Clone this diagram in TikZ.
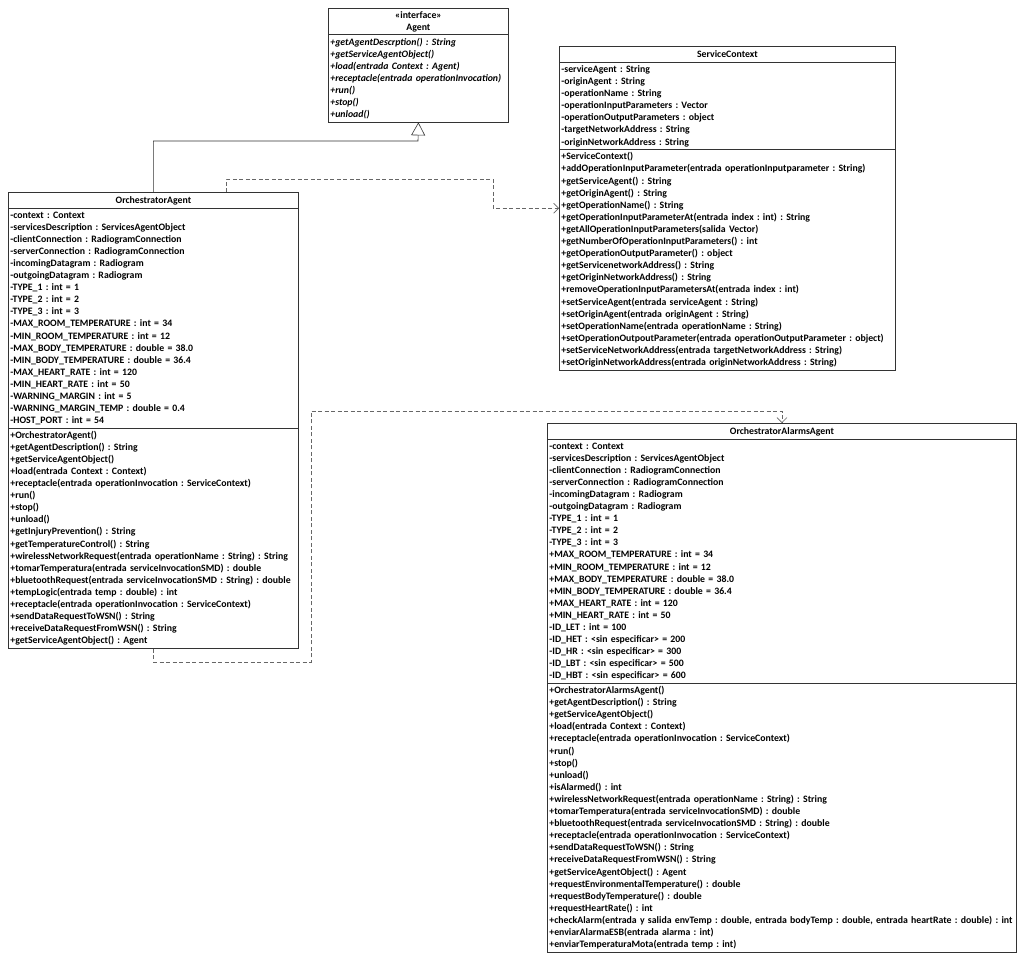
\documentclass[tikz,border=0pt]{standalone}
\usepackage{fontspec}
\setmainfont{Carlito}
\usepackage{tikz}
\usetikzlibrary{shapes.multipart,arrows.meta}

\newcommand{\umlfont}{\fontsize{9.8}{12.1}\selectfont\bfseries\frenchspacing}
\newcommand{\hdstrut}{\rule[-2.5pt]{0pt}{10.5pt}}
\newcommand{\hdline}[1]{\hbox to\hsize{\hfil#1\hfil}}

\begin{document}
\begin{tikzpicture}[x=1pt, y=-1pt,
    umlclass/.style={draw=black!80, line width=0.8pt, rectangle split, rectangle split parts=3,
        text width=#1, inner xsep=2pt, inner ysep=2.5pt, anchor=north west, font=\umlfont, align=left},
    umliface/.style={umlclass=#1, rectangle split parts=2},
    inherit/.style={draw=black!80, line width=0.6pt, -{Triangle[open, width=14pt, length=13pt]}},
    depends/.style={draw=black!60, line width=0.6pt, dash pattern=on 4pt off 2.5pt, -{Straight Barb[length=5pt, width=10pt]}}]

        \useasboundingbox (0,0) rectangle (1024,962);

        % Interface
        \node[umliface=176pt] (Agent) at (328,8) {\hdline{«interface»}\\\hdline{Agent}
            \nodepart{two}\itshape
            +getAgentDescrption() : String\\
            +getServiceAgentObject()\\
            +load(entrada Context : Agent)\\
            +receptacle(entrada operationInvocation)\\
            +run()\\
            +stop()\\
            +unload()};

        % Service context class
        \node[umlclass=332pt] (SC) at (559,46) {\hdline{\hdstrut ServiceContext}
            \nodepart{two}
            -serviceAgent : String\\
            -originAgent : String\\
            -operationName : String\\
            -operationInputParameters : Vector\\
            -operationOutputParameters : object\\
            -targetNetworkAddress : String\\
            -originNetworkAddress : String
            \nodepart{three}
            +ServiceContext()\\
            +addOperationInputParameter(entrada operationInputparameter : String)\\
            +getServiceAgent() : String\\
            +getOriginAgent() : String\\
            +getOperationName() : String\\
            +getOperationInputParameterAt(entrada index : int) : String\\
            +getAllOperationInputParameters(salida Vector)\\
            +getNumberOfOperationInputParameters() : int\\
            +getOperationOutputParameter() : object\\
            +getServicenetworkAddress() : String\\
            +getOriginNetworkAddress() : String\\
            +removeOperationInputParametersAt(entrada index : int)\\
            +setServiceAgent(entrada serviceAgent : String)\\
            +setOriginAgent(entrada originAgent : String)\\
            +setOperationName(entrada operationName : String)\\
            +setOperationOutpoutParameter(entrada operationOutputParameter : object)\\
            +setServiceNetworkAddress(entrada targetNetworkAddress : String)\\
            +setOriginNetworkAddress(entrada originNetworkAddress : String)};

        % Orchestrator agent class
        \node[umlclass=286pt] (OA) at (8,192) {\hdline{\hdstrut OrchestratorAgent}
            \nodepart{two}
            -context : Context\\
            -servicesDescription : ServicesAgentObject\\
            -clientConnection : RadiogramConnection\\
            -serverConnection : RadiogramConnection\\
            -incomingDatagram : Radiogram\\
            -outgoingDatagram : Radiogram\\
            -TYPE\_1 : int = 1\\
            -TYPE\_2 : int = 2\\
            -TYPE\_3 : int = 3\\
            -MAX\_ROOM\_TEMPERATURE : int = 34\\
            -MIN\_ROOM\_TEMPERATURE : int = 12\\
            -MAX\_BODY\_TEMPERATURE : double = 38.0\\
            -MIN\_BODY\_TEMPERATURE : double = 36.4\\
            -MAX\_HEART\_RATE : int = 120\\
            -MIN\_HEART\_RATE : int = 50\\
            -WARNING\_MARGIN : int = 5\\
            -WARNING\_MARGIN\_TEMP : double = 0.4\\
            -HOST\_PORT : int = 54
            \nodepart{three}
            +OrchestratorAgent()\\
            +getAgentDescription() : String\\
            +getServiceAgentObject()\\
            +load(entrada Context : Context)\\
            +receptacle(entrada operationInvocation : ServiceContext)\\
            +run()\\
            +stop()\\
            +unload()\\
            +getInjuryPrevention() : String\\
            +getTemperatureControl() : String\\
            +wirelessNetworkRequest(entrada operationName : String) : String\\
            +tomarTemperatura(entrada serviceInvocationSMD) : double\\
            +bluetoothRequest(entrada serviceInvocationSMD : String) : double\\
            +tempLogic(entrada temp : double) : int\\
            +receptacle(entrada operationInvocation : ServiceContext)\\
            +sendDataRequestToWSN() : String\\
            +receiveDataRequestFromWSN() : String\\
            +getServiceAgentObject() : Agent};

        % Orchestrator alarms agent class
        \node[umlclass=465pt] (OAA) at (547,423) {\hdline{\hdstrut OrchestratorAlarmsAgent}
            \nodepart{two}
            -context : Context\\
            -servicesDescription : ServicesAgentObject\\
            -clientConnection : RadiogramConnection\\
            -serverConnection : RadiogramConnection\\
            -incomingDatagram : Radiogram\\
            -outgoingDatagram : Radiogram\\
            -TYPE\_1 : int = 1\\
            -TYPE\_2 : int = 2\\
            -TYPE\_3 : int = 3\\
            +MAX\_ROOM\_TEMPERATURE : int = 34\\
            +MIN\_ROOM\_TEMPERATURE : int = 12\\
            +MAX\_BODY\_TEMPERATURE : double = 38.0\\
            +MIN\_BODY\_TEMPERATURE : double = 36.4\\
            +MAX\_HEART\_RATE : int = 120\\
            +MIN\_HEART\_RATE : int = 50\\
            -ID\_LET : int = 100\\
            -ID\_HET : <sin especificar> = 200\\
            -ID\_HR : <sin especificar> = 300\\
            -ID\_LBT : <sin especificar> = 500\\
            -ID\_HBT : <sin especificar> = 600
            \nodepart{three}
            +OrchestratorAlarmsAgent()\\
            +getAgentDescription() : String\\
            +getServiceAgentObject()\\
            +load(entrada Context : Context)\\
            +receptacle(entrada operationInvocation : ServiceContext)\\
            +run()\\
            +stop()\\
            +unload()\\
            +isAlarmed() : int\\
            +wirelessNetworkRequest(entrada operationName : String) : String\\
            +tomarTemperatura(entrada serviceInvocationSMD) : double\\
            +bluetoothRequest(entrada serviceInvocationSMD : String) : double\\
            +receptacle(entrada operationInvocation : ServiceContext)\\
            +sendDataRequestToWSN() : String\\
            +receiveDataRequestFromWSN() : String\\
            +getServiceAgentObject() : Agent\\
            +requestEnvironmentalTemperature() : double\\
            +requestBodyTemperature() : double\\
            +requestHeartRate() : int\\
            +checkAlarm(entrada y salida envTemp : double, entrada bodyTemp : double, entrada heartRate : double) : int\\
            +enviarAlarmaESB(entrada alarma : int)\\
            +enviarTemperaturaMota(entrada temp : int)};

        % Bend points of the connectors
        \coordinate (inh) at (418,141);
        \coordinate (d1) at (493,179);
        \coordinate (d2) at (311,662);
        \coordinate (d3) at (311,411);

        % Realization of the interface
        \draw[inherit] (OA.north) |- (inh) -- (Agent.south);

        % Dependencies
        \draw[depends] ([xshift=73pt]OA.north) |- (d1) |- (SC.west);
        \draw[depends] (OA.south) |- (d2) -- (d3) -| (OAA.north);

    \end{tikzpicture}
\end{document}
